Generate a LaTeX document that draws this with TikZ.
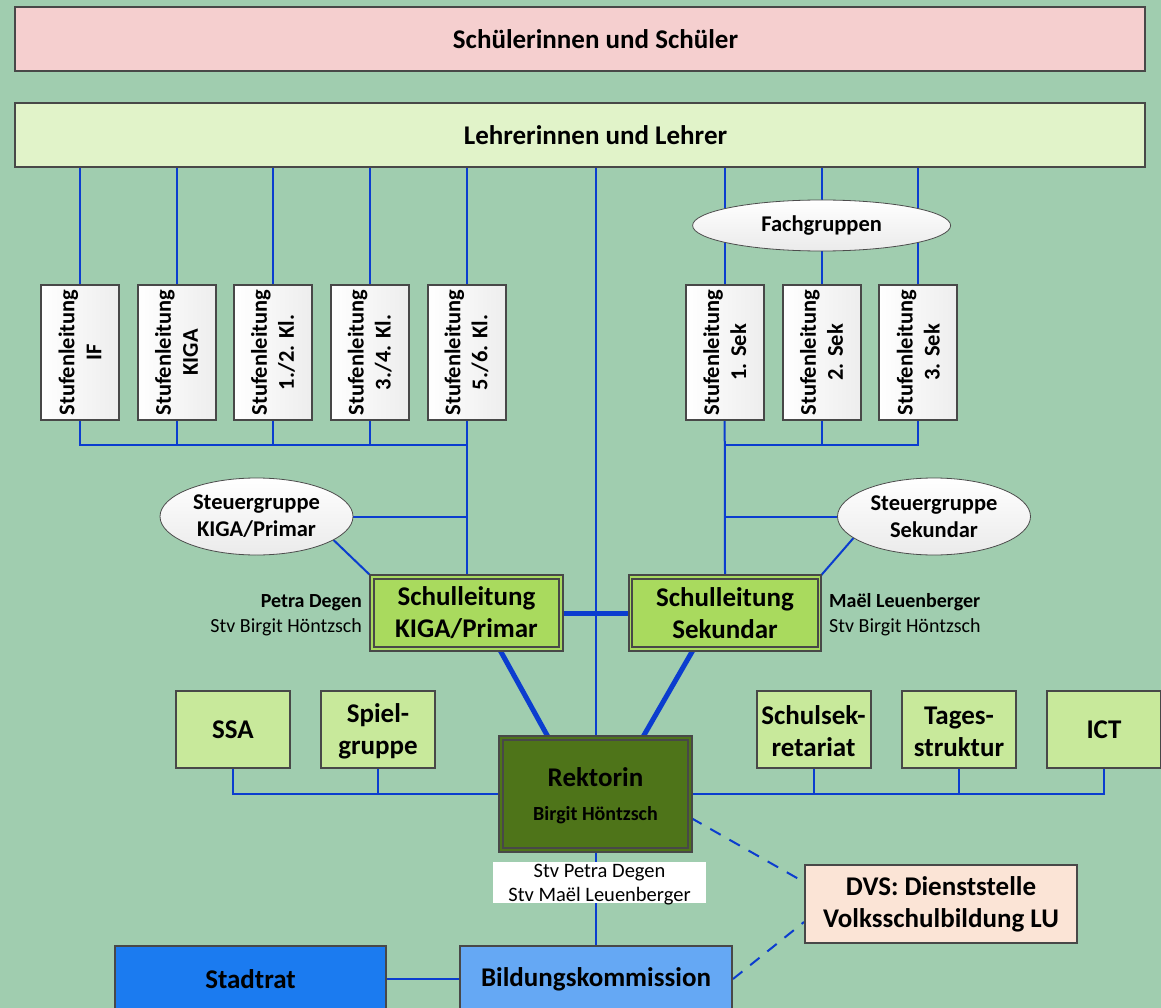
\documentclass[tikz,border=0pt]{standalone}
\usepackage{fontspec}
\setmainfont{Carlito}
\usetikzlibrary{shapes.geometric,calc}
\definecolor{bgc}{HTML}{A0CDAF}
\definecolor{pinkc}{HTML}{F5CFCF}
\definecolor{lehrc}{HTML}{E1F3C9}
\definecolor{sidec}{HTML}{C8E99B}
\definecolor{slc}{HTML}{A9DA5E}
\definecolor{rekc}{HTML}{4E7419}
\definecolor{dvsc}{HTML}{FBE4D6}
\definecolor{bkc}{HTML}{65A8F4}
\definecolor{stc}{HTML}{1B7BF0}
\definecolor{bordc}{HTML}{484848}
\definecolor{linec}{HTML}{0B3DCF}
\newcommand{\myBig}{\fontsize{27}{32}\selectfont\bfseries}
\newcommand{\myMid}{\fontsize{22.5}{27}\selectfont\bfseries}
\newcommand{\mySmall}{\fontsize{20}{25}\selectfont}
\pgfdeclarelayer{bgl}
\pgfdeclarelayer{lines}
\pgfsetlayers{bgl,lines,main}
\begin{document}
\begin{tikzpicture}[x=1pt,y=-1pt,
  box/.style={draw=bordc, line width=2pt, rectangle, inner sep=0pt, align=center, font=\myBig},
  stufebox/.style={box, minimum width=78, minimum height=135, left color=white, right color=gray!14},
  stext/.style={rotate=90, align=center, font=\myMid, inner sep=0pt},
  oval/.style={ellipse, draw=gray!60!black, line width=0.8pt, top color=white, bottom color=gray!16, inner sep=0pt, align=center, font=\myMid},
  sidebox/.style={box, fill=sidec, minimum width=114, minimum height=77},
  dbl/.style={draw=bordc, line width=2.2pt, double=#1, double distance=1.4pt, fill=#1, rectangle, inner sep=0pt, align=center, font=\myBig},
  ln/.style={draw=linec, line width=2pt},
  thk/.style={draw=linec, line width=5pt},
  dsh/.style={draw=linec, line width=2pt, dash pattern=on 12pt off 10pt}]
\begin{pgfonlayer}{bgl}
\fill[bgc] (0,0) rectangle (1161,1008);
\end{pgfonlayer}
\useasboundingbox (0,0) rectangle (1161,1008);
\clip (0,0) rectangle (1161,1008);

\node[box, fill=pinkc, minimum width=1130, minimum height=64] (S) at (580,39) {};
\node[font=\myBig, inner sep=0pt] (St) at (595.5,39) {Schülerinnen und Schüler};
\node[box, fill=lehrc, minimum width=1130, minimum height=64] (L) at (580,135) {};
\node[font=\myBig, inner sep=0pt] (Lt) at (595.5,135) {Lehrerinnen und Lehrer};

\node[stufebox] (s1) at (80,352.5) {};
\node[stufebox] (s2) at (176.5,352.5) {};
\node[stufebox] (s3) at (273,352.5) {};
\node[stufebox] (s4) at (369.7,352.5) {};
\node[stufebox] (s5) at (466.5,352.5) {};
\node[stufebox] (r1) at (724.7,352.5) {};
\node[stufebox] (r2) at (821.6,352.5) {};
\node[stufebox] (r3) at (918.3,352.5) {};
\node[stext] (s1t) at (s1) {Stufenleitung\\IF};
\node[stext] (s2t) at (s2) {Stufenleitung\\KIGA};
\node[stext] (s3t) at (s3) {Stufenleitung\\1./2. Kl.};
\node[stext] (s4t) at (s4) {Stufenleitung\\3./4. Kl.};
\node[stext] (s5t) at (s5) {Stufenleitung\\5./6. Kl.};
\node[stext] (r1t) at (r1) {Stufenleitung\\1. Sek};
\node[stext] (r2t) at (r2) {Stufenleitung\\2. Sek};
\node[stext] (r3t) at (r3) {Stufenleitung\\3. Sek};

\node[oval, minimum width=258, minimum height=51] (fg) at (821.6,225.5) {Fachgruppen};
\node[oval, minimum width=193, minimum height=77] (stk) at (256.5,516.5) {Steuergruppe\\KIGA/Primar};
\node[oval, minimum width=193, minimum height=77] (sts) at (934,516.5) {Steuergruppe\\Sekundar};

\node[dbl=slc, minimum width=189, minimum height=72] (SLK) at (466.5,613) {Schulleitung\\KIGA/Primar};
\node[dbl=slc, minimum width=189, minimum height=72] (SLS) at (725,613) {Schulleitung\\Sekundar};
\node[anchor=east, align=right, font=\mySmall, inner sep=0pt] (pd) at (362,615) {\textbf{Petra Degen}\\Stv Birgit Höntzsch};
\node[anchor=west, align=left, font=\mySmall, inner sep=0pt] (ml) at (829,615) {\textbf{Maël Leuenberger}\\Stv Birgit Höntzsch};

\node[sidebox] (ssa) at (233,729.5) {SSA};
\node[sidebox] (spg) at (378,729.5) {};
\node[font=\myBig, align=center, inner sep=0pt] (spgt) at (378,731.5) {Spiel-\\gruppe};
\node[sidebox] (sek) at (813.5,729.5) {};
\node[font=\myBig, align=center, inner sep=0pt] (sekt) at (813.5,731.5) {Schulsek-\\retariat};
\node[sidebox] (tag) at (959,729.5) {};
\node[font=\myBig, align=center, inner sep=0pt] (tagt) at (959,731.5) {Tages-\\struktur};
\node[sidebox] (ict) at (1104,729.5) {ICT};

\node[dbl=rekc, minimum width=189, minimum height=112] (R) at (595.5,794) {};
\node[align=center, font=\myBig, inner sep=0pt] (Rt) at (595.5,796) {Rektorin\\[2pt]{\fontsize{20}{24}\selectfont\bfseries Birgit Höntzsch}};
\node[fill=white, minimum width=213, minimum height=41, inner sep=0pt] (stvbg) at (599.5,882.5) {};
\node[align=center, font=\fontsize{20.5}{24}\selectfont, inner sep=0pt] (stv) at (599.5,885) {Stv Petra Degen\\Stv Maël Leuenberger};

\node[box, fill=dvsc, minimum width=272, minimum height=78] (DVS) at (941,904) {DVS: Dienststelle\\Volksschulbildung LU};
\node[box, fill=bkc, minimum width=272, minimum height=66] (BK) at (596,979) {Bildungskommission};
\node[box, fill=stc, minimum width=271, minimum height=66] (ST) at (250.5,979) {Stadtrat};

\coordinate (lbus) at (466.5,445);
\coordinate (rbus) at (724.7,445);

\begin{pgfonlayer}{lines}
\draw[ln] (L.south -| BK.north) -- (BK.north);
\foreach \n in {s1,s2,s3,s4,s5,r1,r2,r3} \draw[ln] (L.south -| \n.north) -- (\n.north);
\draw[ln] (s1.south) |- (lbus);
\foreach \n in {s2,s3,s4} \draw[ln] (\n.south) -- (\n.south |- lbus);
\draw[ln] (s5.south) -- (SLK.north);
\draw[ln] (r3.south) |- (rbus);
\draw[ln] (r2.south) -- (r2.south |- rbus);
\draw[ln] (r1.south) -- (SLS.north);
\draw[ln] (stk.east) -- (stk.east -| s5.south);
\draw[ln] (sts.west) -- (sts.west -| r1.south);
\draw[ln] (stk.-17) -- (SLK.north west);
\draw[ln] (sts.195) -- (SLS.north east);
\draw[thk] (SLK.east) -- (SLS.west);
\draw[thk] ($(SLK.south)+(33.5,0)$) -- ($(R.north)+(-47.5,0)$);
\draw[thk] ($(SLS.south)+(-32,0)$) -- ($(R.north)+(47.5,0)$);
\draw[ln] (ssa.south) |- (R.west);
\draw[ln] (spg.south) -- (spg.south |- R.west);
\draw[ln] (R.east) -| (ict.south);
\draw[ln] (sek.south) -- (sek.south |- R.east);
\draw[ln] (tag.south) -- (tag.south |- R.east);
\draw[ln] (ST.east) -- (BK.west);
\draw[dsh] ($(R.east)+(0,24)$) -- ($(DVS.west)+(0,-22)$);
\draw[dsh] (BK.east) -- ($(DVS.west)+(0,18)$);
\end{pgfonlayer}
\end{tikzpicture}
\end{document}
